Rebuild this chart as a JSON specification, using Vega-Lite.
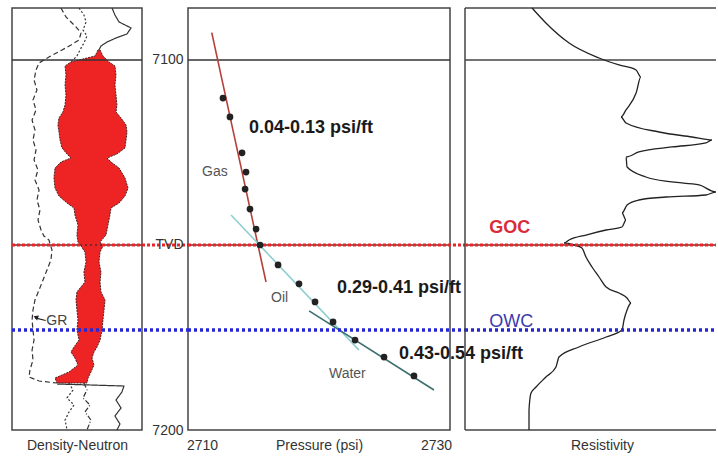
{
  "$schema": "https://vega.github.io/schema/vega-lite/v6.json",
  "padding": {"left": 9, "top": 4, "right": 0, "bottom": 0},
  "background": "white",
  "bounds": "flush",
  "spacing": 46,
  "config": {
    "font": "Liberation Sans",
    "view": {"stroke": "#444", "strokeWidth": 1.5},
    "axis": {"labelFont": "Liberation Sans", "titleFont": "Liberation Sans", "labelColor": "#333", "titleColor": "#333", "labelFontSize": 14, "titleFontSize": 14, "titleFontWeight": "normal", "grid": false}
  },
  "hconcat": [
    {
      "width": 130,
      "height": 422,
      "encoding": {
        "x": {"field": "v", "type": "quantitative", "scale": {"domain": [0, 98.5], "nice": false, "zero": false}, "axis": {"title": "Density-Neutron", "labels": false, "ticks": false, "domain": false, "titleY": 8, "titleBaseline": "top"}},
        "y": {"field": "d", "type": "quantitative", "scale": {"domain": [7085.95, 7200], "reverse": true, "nice": false, "zero": false}, "axis": null}
      },
      "layer": [
        {
          "data": {"values": [
            {"d": 7097.30, "v": 65.2, "v2": 66.7},
            {"d": 7098.92, "v": 62.9, "v2": 68.9},
            {"d": 7100.54, "v": 44.7, "v2": 73.5},
            {"d": 7101.62, "v": 40.2, "v2": 78.0},
            {"d": 7104.05, "v": 40.9, "v2": 78.8},
            {"d": 7106.76, "v": 40.2, "v2": 78.0},
            {"d": 7109.46, "v": 40.9, "v2": 78.8},
            {"d": 7112.16, "v": 40.2, "v2": 79.5},
            {"d": 7114.05, "v": 38.6, "v2": 78.8},
            {"d": 7115.68, "v": 35.6, "v2": 82.6},
            {"d": 7117.57, "v": 34.8, "v2": 86.4},
            {"d": 7119.46, "v": 35.6, "v2": 87.1},
            {"d": 7121.62, "v": 36.4, "v2": 86.4},
            {"d": 7123.78, "v": 37.9, "v2": 85.6},
            {"d": 7125.41, "v": 41.7, "v2": 79.5},
            {"d": 7126.49, "v": 44.7, "v2": 72.0},
            {"d": 7127.57, "v": 37.1, "v2": 75.0},
            {"d": 7129.19, "v": 32.6, "v2": 81.1},
            {"d": 7131.89, "v": 31.8, "v2": 85.6},
            {"d": 7134.59, "v": 32.6, "v2": 87.9},
            {"d": 7136.76, "v": 35.6, "v2": 85.6},
            {"d": 7138.65, "v": 41.7, "v2": 81.1},
            {"d": 7140.00, "v": 47.0, "v2": 75.0},
            {"d": 7141.89, "v": 47.7, "v2": 74.2},
            {"d": 7144.59, "v": 50.0, "v2": 72.7},
            {"d": 7147.30, "v": 49.2, "v2": 71.2},
            {"d": 7149.19, "v": 50.0, "v2": 66.7},
            {"d": 7150.27, "v": 52.3, "v2": 68.9},
            {"d": 7151.89, "v": 55.3, "v2": 66.7},
            {"d": 7154.59, "v": 56.1, "v2": 65.9},
            {"d": 7157.30, "v": 54.5, "v2": 67.4},
            {"d": 7160.00, "v": 55.3, "v2": 66.7},
            {"d": 7162.70, "v": 49.2, "v2": 67.4},
            {"d": 7164.86, "v": 48.5, "v2": 70.5},
            {"d": 7167.57, "v": 49.2, "v2": 69.7},
            {"d": 7170.27, "v": 50.0, "v2": 68.9},
            {"d": 7172.97, "v": 49.2, "v2": 68.2},
            {"d": 7175.68, "v": 50.8, "v2": 66.7},
            {"d": 7177.57, "v": 47.0, "v2": 64.4},
            {"d": 7178.92, "v": 44.7, "v2": 62.1},
            {"d": 7180.54, "v": 47.7, "v2": 60.6},
            {"d": 7182.43, "v": 50.0, "v2": 62.1},
            {"d": 7184.32, "v": 43.2, "v2": 59.8},
            {"d": 7185.95, "v": 32.6, "v2": 57.6},
            {"d": 7187.30, "v": 34.1, "v2": 56.8}
          ]},
          "mark": {"type": "area", "orient": "horizontal", "fill": "#ee2424", "fillOpacity": 1, "stroke": "#4a2020", "strokeWidth": 1, "strokeDash": [2, 1]},
          "encoding": {"x2": {"field": "v2"}}
        },
        {
          "data": {"values": [
            {"s": "gr", "i": 0, "d": 7085.95, "v": 37.1}, {"s": "gr", "i": 1, "d": 7088.38, "v": 40.9}, {"s": "gr", "i": 2, "d": 7091.08, "v": 48.5}, {"s": "gr", "i": 3, "d": 7092.70, "v": 52.3}, {"s": "gr", "i": 4, "d": 7094.59, "v": 50.8}, {"s": "gr", "i": 5, "d": 7095.95, "v": 44.7}, {"s": "gr", "i": 6, "d": 7097.30, "v": 37.9}, {"s": "gr", "i": 7, "d": 7099.19, "v": 28.0}, {"s": "gr", "i": 8, "d": 7100.81, "v": 20.5}, {"s": "gr", "i": 9, "d": 7102.70, "v": 18.2}, {"s": "gr", "i": 10, "d": 7105.41, "v": 16.7}, {"s": "gr", "i": 11, "d": 7108.11, "v": 18.9}, {"s": "gr", "i": 12, "d": 7110.81, "v": 15.9}, {"s": "gr", "i": 13, "d": 7113.51, "v": 18.2}, {"s": "gr", "i": 14, "d": 7116.22, "v": 15.2}, {"s": "gr", "i": 15, "d": 7118.92, "v": 17.4}, {"s": "gr", "i": 16, "d": 7121.62, "v": 15.9}, {"s": "gr", "i": 17, "d": 7124.32, "v": 18.2}, {"s": "gr", "i": 18, "d": 7127.03, "v": 16.7}, {"s": "gr", "i": 19, "d": 7129.73, "v": 19.7}, {"s": "gr", "i": 20, "d": 7132.43, "v": 17.4}, {"s": "gr", "i": 21, "d": 7135.14, "v": 20.5}, {"s": "gr", "i": 22, "d": 7137.84, "v": 18.9}, {"s": "gr", "i": 23, "d": 7140.54, "v": 21.2}, {"s": "gr", "i": 24, "d": 7143.24, "v": 19.7}, {"s": "gr", "i": 25, "d": 7145.95, "v": 22.0}, {"s": "gr", "i": 26, "d": 7147.57, "v": 24.2}, {"s": "gr", "i": 27, "d": 7148.65, "v": 28.0}, {"s": "gr", "i": 28, "d": 7151.35, "v": 30.3}, {"s": "gr", "i": 29, "d": 7154.05, "v": 29.5}, {"s": "gr", "i": 30, "d": 7156.76, "v": 26.5}, {"s": "gr", "i": 31, "d": 7159.46, "v": 23.5}, {"s": "gr", "i": 32, "d": 7162.16, "v": 20.5}, {"s": "gr", "i": 33, "d": 7164.86, "v": 17.4}, {"s": "gr", "i": 34, "d": 7167.57, "v": 15.9}, {"s": "gr", "i": 35, "d": 7170.27, "v": 15.2}, {"s": "gr", "i": 36, "d": 7172.97, "v": 15.9}, {"s": "gr", "i": 37, "d": 7175.68, "v": 16.7}, {"s": "gr", "i": 38, "d": 7178.38, "v": 15.2}, {"s": "gr", "i": 39, "d": 7181.08, "v": 15.9}, {"s": "gr", "i": 40, "d": 7183.78, "v": 13.6}, {"s": "gr", "i": 41, "d": 7185.68, "v": 12.9}, {"s": "gr", "i": 42, "d": 7186.76, "v": 20.5}, {"s": "gr", "i": 43, "d": 7187.30, "v": 34.1},
            {"s": "dot", "i": 0, "d": 7085.95, "v": 50.8}, {"s": "dot", "i": 1, "d": 7087.84, "v": 54.5}, {"s": "dot", "i": 2, "d": 7089.73, "v": 56.1}, {"s": "dot", "i": 3, "d": 7091.89, "v": 53.8}, {"s": "dot", "i": 4, "d": 7093.51, "v": 56.8}, {"s": "dot", "i": 5, "d": 7095.41, "v": 54.5}, {"s": "dot", "i": 6, "d": 7097.30, "v": 51.5}, {"s": "dot", "i": 7, "d": 7098.92, "v": 49.2}, {"s": "dot", "i": 8, "d": 7100.54, "v": 44.7},
            {"s": "solid", "i": 0, "d": 7085.95, "v": 75.8}, {"s": "solid", "i": 1, "d": 7087.84, "v": 78.0}, {"s": "solid", "i": 2, "d": 7089.73, "v": 81.1}, {"s": "solid", "i": 3, "d": 7091.35, "v": 90.2}, {"s": "solid", "i": 4, "d": 7092.97, "v": 87.1}, {"s": "solid", "i": 5, "d": 7094.05, "v": 78.8}, {"s": "solid", "i": 6, "d": 7095.14, "v": 72.0}, {"s": "solid", "i": 7, "d": 7096.22, "v": 67.4}, {"s": "solid", "i": 8, "d": 7097.30, "v": 65.9},
            {"s": "dotb", "i": 0, "d": 7187.30, "v": 43.2}, {"s": "dotb", "i": 1, "d": 7189.19, "v": 46.2}, {"s": "dotb", "i": 2, "d": 7191.35, "v": 41.7}, {"s": "dotb", "i": 3, "d": 7193.24, "v": 47.0}, {"s": "dotb", "i": 4, "d": 7195.14, "v": 43.2}, {"s": "dotb", "i": 5, "d": 7197.30, "v": 40.2}, {"s": "dotb", "i": 6, "d": 7200, "v": 41.7},
            {"s": "dashdot", "i": 0, "d": 7187.30, "v": 54.5}, {"s": "dashdot", "i": 1, "d": 7189.19, "v": 56.8}, {"s": "dashdot", "i": 2, "d": 7191.35, "v": 53.8}, {"s": "dashdot", "i": 3, "d": 7193.24, "v": 59.1}, {"s": "dashdot", "i": 4, "d": 7195.14, "v": 55.3}, {"s": "dashdot", "i": 5, "d": 7197.30, "v": 59.8}, {"s": "dashdot", "i": 6, "d": 7200, "v": 56.8},
            {"s": "solidb", "i": 0, "d": 7187.57, "v": 34.1}, {"s": "solidb", "i": 1, "d": 7188.11, "v": 84.8}, {"s": "solidb", "i": 2, "d": 7189.73, "v": 83.3}, {"s": "solidb", "i": 3, "d": 7191.89, "v": 78.8}, {"s": "solidb", "i": 4, "d": 7194.05, "v": 82.6}, {"s": "solidb", "i": 5, "d": 7196.22, "v": 78.0}, {"s": "solidb", "i": 6, "d": 7198.38, "v": 81.8}, {"s": "solidb", "i": 7, "d": 7200, "v": 79.5}
          ]},
          "mark": {"type": "line", "color": "#333", "strokeWidth": 1.2},
          "encoding": {
            "detail": {"field": "s", "type": "nominal"},
            "order": {"field": "i", "type": "quantitative"},
            "strokeDash": {"field": "s", "type": "nominal", "scale": {"domain": ["gr", "dot", "solid", "dotb", "dashdot", "solidb"], "range": [[5, 3], [2, 2], [1, 0], [2, 2], [5, 2, 1, 2], [1, 0]]}, "legend": null}
          }
        },
        {
          "data": {"values": [{"d": 7100, "v": 0, "v2": 98.5}]},
          "mark": {"type": "rule", "color": "#333", "strokeWidth": 1.5},
          "encoding": {"x2": {"field": "v2"}}
        },
        {
          "data": {"values": [{"d": 7150, "v": 0, "v2": 98.5}]},
          "mark": {"type": "rule", "color": "#6a2222", "strokeWidth": 1.5},
          "encoding": {"x2": {"field": "v2"}}
        },
        {
          "data": {"values": [{"d": 7150, "v": 0, "v2": 134.1}]},
          "mark": {"type": "rule", "color": "#e8262a", "strokeWidth": 3, "strokeDash": [3, 2]},
          "encoding": {"x2": {"field": "v2"}}
        },
        {
          "data": {"values": [{"d": 7173, "v": 0, "v2": 134.1}]},
          "mark": {"type": "rule", "color": "#2626d6", "strokeWidth": 3.5, "strokeDash": [3, 3]},
          "encoding": {"x2": {"field": "v2"}}
        },
        {
          "data": {"values": [{"d": 7169.7, "v": 17.4, "d2": 7170.4, "v2": 25.5}]},
          "mark": {"type": "rule", "color": "#222", "strokeWidth": 1.2},
          "encoding": {"x2": {"field": "v2"}, "y2": {"field": "d2"}}
        },
        {
          "data": {"values": [{"d": 7169.5, "v": 18.0}]},
          "mark": {"type": "point", "shape": "triangle-up", "angle": -70, "size": 30, "filled": true, "color": "#222", "opacity": 1}
        },
        {
          "data": {"values": [{"d": 7170.6, "v": 26.0, "t": "GR"}]},
          "mark": {"type": "text", "align": "left", "baseline": "middle", "fontSize": 14, "color": "#444"},
          "encoding": {"text": {"field": "t", "type": "nominal"}}
        }
      ]
    },
    {
      "bounds": "flush",
      "spacing": 15,
      "hconcat": [
        {
          "width": 262,
          "height": 422,
          "encoding": {
            "x": {"field": "p", "type": "quantitative", "scale": {"domain": [2708.8, 2731.2], "nice": false, "zero": false}, "axis": {"title": "Pressure (psi)", "values": [2710, 2730], "format": "d", "ticks": false, "domain": false, "labelPadding": 8, "labelFlush": false, "labelOverlap": false, "titleY": 8, "titleBaseline": "top"}},
            "y": {"field": "d", "type": "quantitative", "scale": {"domain": [7085.95, 7200], "reverse": true, "nice": false, "zero": false}, "axis": {"title": null, "values": [7100, 7150, 7200], "format": "d", "labelExpr": "datum.value == 7150 ? 'TVD' : datum.label", "ticks": false, "domain": false, "labelPadding": 5, "labelFlush": false, "labelOverlap": false}}
          },
          "layer": [
            {
              "data": {"values": [{"d": 7100, "p": 2708.8, "p2": 2731.2}]},
              "mark": {"type": "rule", "color": "#333", "strokeWidth": 1.5},
              "encoding": {"x2": {"field": "p2"}}
            },
            {
              "data": {"values": [{"d": 7150, "p": 2708.8, "p2": 2731.2}]},
              "mark": {"type": "rule", "color": "#7a2222", "strokeWidth": 1.5},
              "encoding": {"x2": {"field": "p2"}}
            },
            {
              "data": {"values": [
                {"s": "gas", "p": 2710.83, "d": 7092.6}, {"s": "gas", "p": 2715.47, "d": 7160.0},
                {"s": "oil", "p": 2712.48, "d": 7141.9}, {"s": "oil", "p": 2723.42, "d": 7178.4},
                {"s": "water", "p": 2719.15, "d": 7167.8}, {"s": "water", "p": 2729.83, "d": 7189.2}
              ]},
              "mark": {"type": "line", "strokeWidth": 1.6},
              "encoding": {"color": {"field": "s", "type": "nominal", "scale": {"domain": ["gas", "oil", "water"], "range": ["#b5403a", "#8fcfcf", "#3d6e70"]}, "legend": null}}
            },
            {
              "data": {"values": [{"d": 7150, "p": 2708.8, "p2": 2732.48}]},
              "mark": {"type": "rule", "color": "#e8262a", "strokeWidth": 3, "strokeDash": [3, 2]},
              "encoding": {"x2": {"field": "p2"}}
            },
            {
              "data": {"values": [{"d": 7173, "p": 2708.8, "p2": 2732.48}]},
              "mark": {"type": "rule", "color": "#2626d6", "strokeWidth": 3.5, "strokeDash": [3, 3]},
              "encoding": {"x2": {"field": "p2"}}
            },
            {
              "data": {"values": [
                {"p": 2711.79, "d": 7110.3}, {"p": 2712.39, "d": 7115.4}, {"p": 2713.42, "d": 7125.1}, {"p": 2713.76, "d": 7130.3}, {"p": 2713.68, "d": 7134.9}, {"p": 2714.10, "d": 7140.3}, {"p": 2714.62, "d": 7145.7}, {"p": 2714.96, "d": 7150.0}, {"p": 2716.50, "d": 7155.4}, {"p": 2718.29, "d": 7160.5}, {"p": 2719.66, "d": 7165.4}, {"p": 2721.20, "d": 7170.8}, {"p": 2723.08, "d": 7175.7}, {"p": 2725.56, "d": 7180.3}, {"p": 2728.12, "d": 7185.4}
              ]},
              "mark": {"type": "circle", "size": 45, "color": "#222", "opacity": 1}
            },
            {
              "data": {"values": [
                {"t": "0.04-0.13 psi/ft", "p": 2714.02, "d": 7118.4},
                {"t": "0.29-0.41 psi/ft", "p": 2721.54, "d": 7161.6},
                {"t": "0.43-0.54 psi/ft", "p": 2726.84, "d": 7179.5}
              ]},
              "mark": {"type": "text", "align": "left", "baseline": "middle", "fontSize": 18, "fontWeight": "bold", "color": "#1a1a1a"},
              "encoding": {"text": {"field": "t", "type": "nominal"}}
            },
            {
              "data": {"values": [
                {"t": "Gas", "p": 2710.0, "d": 7130.3},
                {"t": "Oil", "p": 2715.9, "d": 7164.3},
                {"t": "Water", "p": 2720.85, "d": 7184.9}
              ]},
              "mark": {"type": "text", "align": "left", "baseline": "middle", "fontSize": 14, "color": "#555"},
              "encoding": {"text": {"field": "t", "type": "nominal"}}
            }
          ]
        },
        {
          "width": 251,
          "height": 422,
          "view": {"stroke": null},
          "encoding": {
            "x": {"field": "v", "type": "quantitative", "scale": {"domain": [0, 99.6], "nice": false, "zero": false}, "axis": {"title": "Resistivity", "labels": false, "ticks": false, "domain": false, "titleY": 8, "titleBaseline": "top", "titleX": 137}},
            "y": {"field": "d", "type": "quantitative", "scale": {"domain": [7085.95, 7200], "reverse": true, "nice": false, "zero": false}, "axis": null}
          },
          "layer": [
            {
              "data": {"values": [{"d": 7085.95, "v": 0, "v2": 99.6}, {"d": 7200, "v": 0, "v2": 99.6}, {"d": 7100, "v": 0, "v2": 99.6}]},
              "mark": {"type": "rule", "color": "#444", "strokeWidth": 1.5},
              "encoding": {"x2": {"field": "v2"}}
            },
            {
              "data": {"values": [{"d": 7085.95, "d2": 7200, "v": 0}]},
              "mark": {"type": "rule", "color": "#444", "strokeWidth": 1.5},
              "encoding": {"y2": {"field": "d2"}}
            },
            {
              "data": {"values": [{"d": 7150, "v": 0, "v2": 99.6}]},
              "mark": {"type": "rule", "color": "#7a2222", "strokeWidth": 1.5},
              "encoding": {"x2": {"field": "v2"}}
            },
            {
              "data": {"values": [
                {"i": 0, "d": 7085.95, "v": 26.6}, {"i": 1, "d": 7090.0, "v": 32.1}, {"i": 2, "d": 7095.41, "v": 41.3}, {"i": 3, "d": 7099.46, "v": 53.2}, {"i": 4, "d": 7101.35, "v": 61.1}, {"i": 5, "d": 7102.70, "v": 67.9}, {"i": 6, "d": 7104.59, "v": 69.8}, {"i": 7, "d": 7108.92, "v": 67.9}, {"i": 8, "d": 7113.51, "v": 63.9}, {"i": 9, "d": 7115.41, "v": 61.9}, {"i": 10, "d": 7117.03, "v": 63.9}, {"i": 11, "d": 7119.46, "v": 77.0}, {"i": 12, "d": 7120.81, "v": 90.1}, {"i": 13, "d": 7121.62, "v": 98.0}, {"i": 14, "d": 7122.43, "v": 95.6}, {"i": 15, "d": 7123.51, "v": 82.1}, {"i": 16, "d": 7124.86, "v": 69.0}, {"i": 17, "d": 7126.22, "v": 63.9}, {"i": 18, "d": 7128.92, "v": 64.3}, {"i": 19, "d": 7131.62, "v": 71.8}, {"i": 20, "d": 7132.97, "v": 82.1}, {"i": 21, "d": 7133.78, "v": 92.9}, {"i": 22, "d": 7135.68, "v": 99.6}, {"i": 23, "d": 7136.49, "v": 95.6}, {"i": 24, "d": 7137.03, "v": 79.8}, {"i": 25, "d": 7137.84, "v": 69.0}, {"i": 26, "d": 7139.19, "v": 64.3}, {"i": 27, "d": 7141.35, "v": 62.3}, {"i": 28, "d": 7143.24, "v": 63.9}, {"i": 29, "d": 7145.14, "v": 62.3}, {"i": 30, "d": 7145.95, "v": 56.0}, {"i": 31, "d": 7147.30, "v": 48.0}, {"i": 32, "d": 7148.65, "v": 41.3}, {"i": 33, "d": 7149.46, "v": 39.3}, {"i": 34, "d": 7150.0, "v": 43.3}, {"i": 35, "d": 7150.81, "v": 46.4}, {"i": 36, "d": 7153.24, "v": 48.0}, {"i": 37, "d": 7155.95, "v": 50.4}, {"i": 38, "d": 7158.65, "v": 53.2}, {"i": 39, "d": 7161.35, "v": 56.0}, {"i": 40, "d": 7162.97, "v": 61.1}, {"i": 41, "d": 7164.32, "v": 64.3}, {"i": 42, "d": 7165.68, "v": 65.9}, {"i": 43, "d": 7167.57, "v": 64.3}, {"i": 44, "d": 7170.27, "v": 63.1}, {"i": 45, "d": 7172.97, "v": 62.3}, {"i": 46, "d": 7174.86, "v": 56.0}, {"i": 47, "d": 7177.57, "v": 45.2}, {"i": 48, "d": 7180.27, "v": 37.3}, {"i": 49, "d": 7182.97, "v": 36.1}, {"i": 50, "d": 7185.68, "v": 32.1}, {"i": 51, "d": 7188.38, "v": 28.2}, {"i": 52, "d": 7190.0, "v": 26.2}, {"i": 53, "d": 7194.59, "v": 25.4}, {"i": 54, "d": 7198.11, "v": 25.4}, {"i": 55, "d": 7200, "v": 25.4}
              ]},
              "mark": {"type": "line", "color": "#222", "strokeWidth": 1.3, "interpolate": "monotone"},
              "encoding": {"order": {"field": "i", "type": "quantitative"}}
            },
            {
              "data": {"values": [{"d": 7150, "v": 0, "v2": 99.6}]},
              "mark": {"type": "rule", "color": "#e8262a", "strokeWidth": 3, "strokeDash": [3, 2]},
              "encoding": {"x2": {"field": "v2"}}
            },
            {
              "data": {"values": [{"d": 7173, "v": 0, "v2": 99.6}]},
              "mark": {"type": "rule", "color": "#2626d6", "strokeWidth": 3.5, "strokeDash": [3, 3]},
              "encoding": {"x2": {"field": "v2"}}
            },
            {
              "data": {"values": [{"t": "GOC", "v": 9.6, "d": 7145.4}]},
              "mark": {"type": "text", "align": "left", "baseline": "middle", "fontSize": 18, "fontWeight": "bold", "color": "#d92b3a"},
              "encoding": {"text": {"field": "t", "type": "nominal"}}
            },
            {
              "data": {"values": [{"t": "OWC", "v": 9.6, "d": 7170.8}]},
              "mark": {"type": "text", "align": "left", "baseline": "middle", "fontSize": 18, "color": "#3b3bb0"},
              "encoding": {"text": {"field": "t", "type": "nominal"}}
            }
          ]
        }
      ]
    }
  ]
}
